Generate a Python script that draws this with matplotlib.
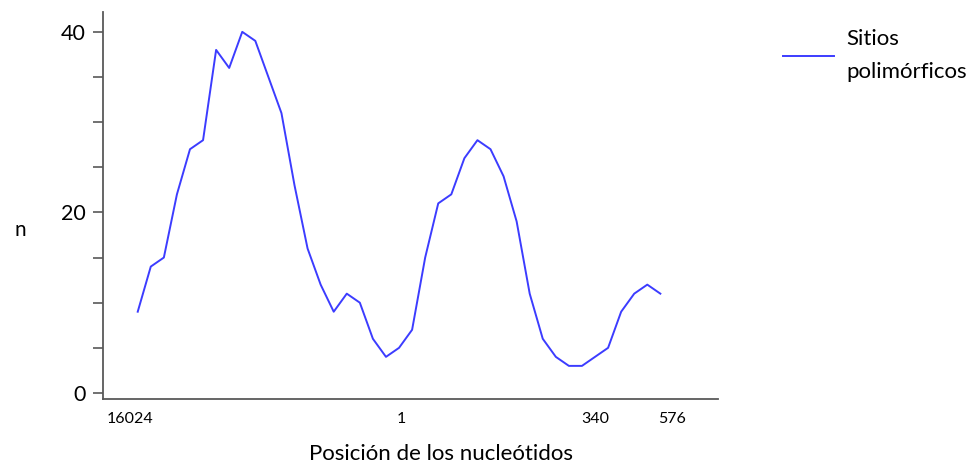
import numpy as np
import matplotlib.pyplot as plt

# Datos (sitios polimorficos por ventana)
n_sitios = [9, 14, 15, 22, 27, 28, 38, 36, 40, 39, 35, 31, 23, 16, 12, 9, 11, 10, 6, 4,
            5, 7, 15, 21, 22, 26, 28, 27, 24, 19, 11, 6, 4, 3, 3, 4, 5, 9, 11, 12, 11]
pos_labels = ["16024", "1", "340", "576"]
pos_ticks = [-0.6, 20.2, 35.0, 40.9]

LINE_COLOR = "#3c3cff"
AXIS_COLOR = "#595959"

plt.rcParams["font.family"] = ["Lato", "DejaVu Sans"]

fig = plt.figure(figsize=(9.76, 4.68), dpi=100)
ax = fig.add_axes([0.1055, 0.1474, 0.63, 0.827])

x = np.arange(len(n_sitios))
ax.plot(x, n_sitios, color=LINE_COLOR, linewidth=1.4, label="Sitios\npolimórficos")

ax.set_xlim(-2.66, 44.4)
ax.set_ylim(-0.67, 42.2)

ax.set_yticks(np.arange(0, 41, 5))
ax.set_yticklabels(["0", "", "", "", "20", "", "", "", "40"], fontsize=15.5)
ax.tick_params(axis="y", length=7, width=1.2, color=AXIS_COLOR, pad=5.5)

ax.set_xticks(pos_ticks)
ax.set_xticklabels(pos_labels, fontsize=11.5)
ax.tick_params(axis="x", length=0, pad=9)

ax.set_xlabel("Posición de los nucleótidos", fontsize=16)
ax.xaxis.set_label_coords(0.55, -0.115)
ax.set_ylabel("n", fontsize=15, rotation=0)
ax.yaxis.set_label_coords(-0.135, 0.41)

for side in ["top", "right"]:
    ax.spines[side].set_visible(False)
for side in ["left", "bottom"]:
    ax.spines[side].set_color(AXIS_COLOR)
    ax.spines[side].set_linewidth(1.3)

leg = fig.legend(loc="upper left", bbox_to_anchor=(0.802, 0.938), frameon=False,
                 fontsize=16, handlelength=2.3, handletextpad=0.57,
                 borderpad=0, borderaxespad=0)
for t in leg.get_texts():
    t.set_linespacing(1.8)

fig.savefig("out.png", dpi=100)
